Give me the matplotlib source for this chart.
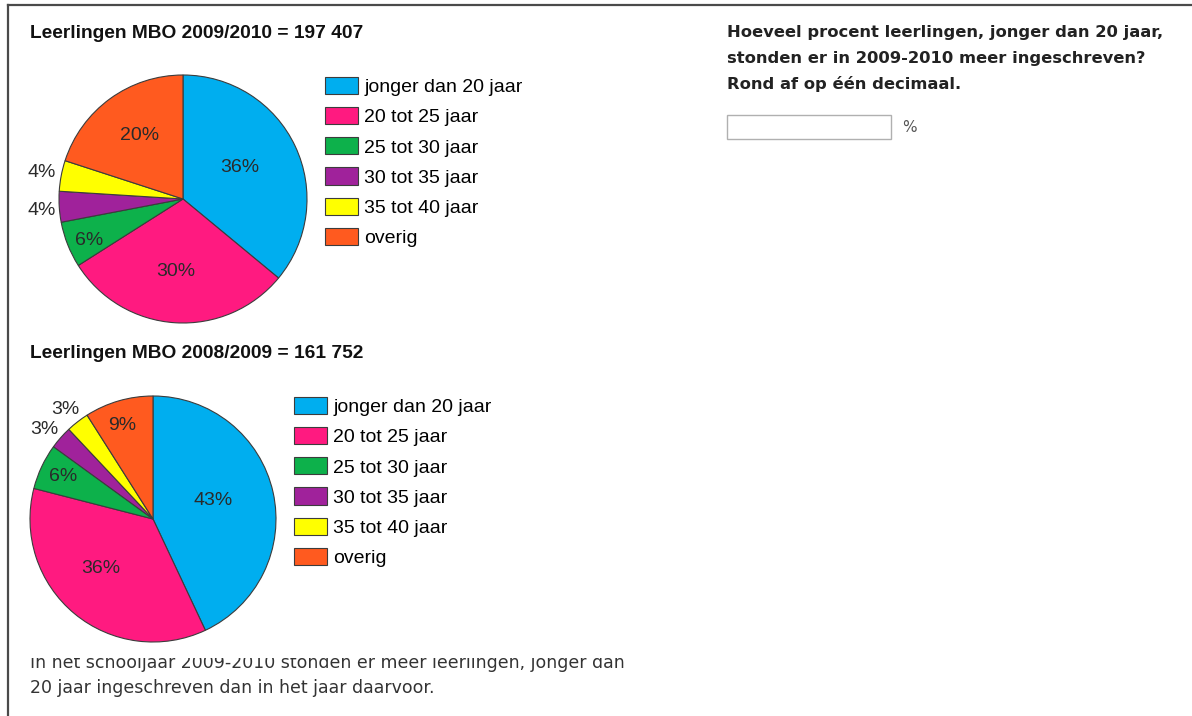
import numpy as np
import matplotlib
matplotlib.use("Agg")
import matplotlib.pyplot as plt
from matplotlib.patches import Rectangle
from matplotlib.transforms import Bbox

# leeftijdsgroepen en kleuren
groepen = ["jonger dan 20 jaar", "20 tot 25 jaar", "25 tot 30 jaar",
           "30 tot 35 jaar", "35 tot 40 jaar", "overig"]
kleuren = ["#00aeef", "#ff1a80", "#0db14b", "#a0229b", "#ffff00", "#ff5a1f"]

# percentages per schooljaar
pct_2010 = [36, 30, 6, 4, 4, 20]
pct_2009 = [43, 36, 6, 3, 3, 9]
totaal_2010 = "197 407"
totaal_2009 = "161 752"

vraag = ["Hoeveel procent leerlingen, jonger dan 20 jaar,",
         "stonden er in 2009-2010 meer ingeschreven?",
         "Rond af op één decimaal."]
uitleg = ["In het schooljaar 2009-2010 stonden er meer leerlingen, jonger dan",
          "20 jaar ingeschreven dan in het jaar daarvoor."]

W, H = 1192, 716
fig = plt.figure(figsize=(W / 100, H / 100), dpi=100)
fig.patch.set_facecolor("white")

# achtergrond-as in pixelcoordinaten
bg = fig.add_axes([0, 0, 1, 1])
bg.set_xlim(0, W)
bg.set_ylim(H, 0)
bg.axis("off")

bg.plot([8, 8], [5, H], color="#4a4a4a", lw=1.6)
bg.plot([8, W], [5, 5], color="#4a4a4a", lw=1.6)

arial = "Liberation Sans"
verdana = "DejaVu Sans"


def taart(cx, cy, r, pct, afstand, draai, lx, ly):
    m = 1.04
    s = 2 * r * m
    ax = fig.add_axes([(cx - s / 2) / W, (H - cy - s / 2) / H, s / W, s / H])
    wedges, _ = ax.pie(pct, colors=kleuren, startangle=90, counterclock=False,
                       frame=True,
                       wedgeprops=dict(edgecolor="#3c3c3c", linewidth=0.8))
    ax.set_xlim(-m, m)
    ax.set_ylim(-m, m)
    ax.axis("off")
    for w, p, d, o in zip(wedges, pct, afstand, draai):
        a = np.deg2rad((w.theta1 + w.theta2) / 2 + o)
        ax.text(d * np.cos(a), d * np.sin(a), f"{p}%", ha="center", va="center",
                fontsize=14, family=arial, color="#2a2a2a")
    ax.legend(wedges, groepen, loc="upper left",
              bbox_to_anchor=(lx / W, 1 - ly / H), bbox_transform=fig.transFigure,
              frameon=False, borderpad=0, borderaxespad=0,
              handlelength=1.7, handleheight=0.98, handletextpad=0.32,
              labelspacing=0.56, prop=dict(family=arial, size=14))
    return ax


taart(183, 199, 124, pct_2010,
      [0.52, 0.59, 0.83, 1.14, 1.16, 0.62], [4, -2, 2, 1, 0, -2], 325, 77)
taart(153, 519, 123, pct_2009,
      [0.51, 0.58, 0.81, 1.14, 1.14, 0.80], [5, -7, 0, 2, 1, 2], 294, 397)

bg.text(30, 33, "Leerlingen MBO 2009/2010 = " + totaal_2010, fontsize=13.8,
        fontweight="bold", family=arial, va="center", color="#111111")
bg.text(30, 353, "Leerlingen MBO 2008/2009 = " + totaal_2009, fontsize=13.8,
        fontweight="bold", family=arial, va="center", color="#111111")

for i, regel in enumerate(vraag):
    bg.text(727, 33 + i * 25.5, regel, fontsize=11.8, fontweight="bold",
            family=verdana, va="center", color="#222222")

bg.add_patch(Rectangle((727, 115), 164, 24, facecolor="white",
                       edgecolor="#b0b0b0", lw=1))
bg.text(902, 128, "%", fontsize=11, family=verdana, va="center", color="#555555")

for i, regel in enumerate(uitleg):
    t = bg.text(30, 663 + i * 25, regel, fontsize=12.5, family=verdana,
                va="center", color="#333333")
    if i == 0:
        # bovenkant van de eerste regel valt weg in de schermafdruk
        t.set_clip_box(Bbox.from_extents(0, 0, W, H - 658))
        t.set_clip_on(True)

fig.savefig("out.png", dpi=100)
